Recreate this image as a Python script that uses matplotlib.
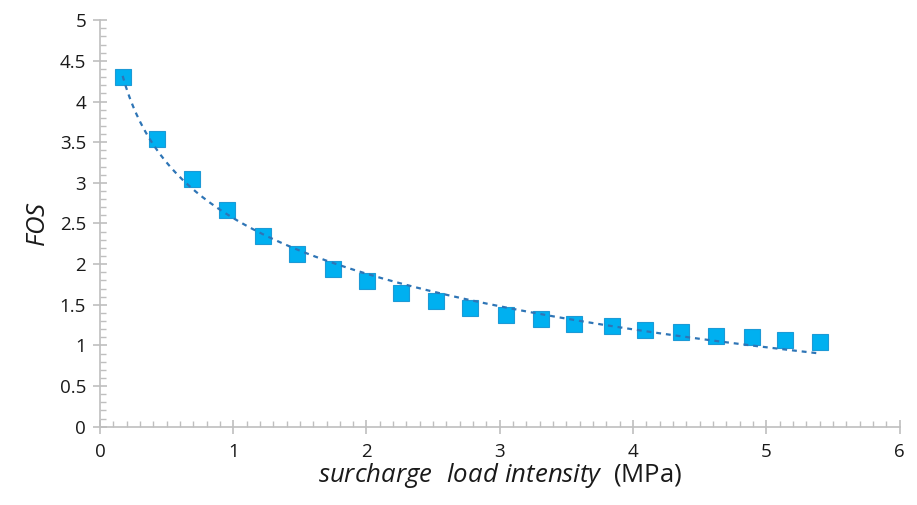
import numpy as np
import matplotlib
matplotlib.use("Agg")
import matplotlib.pyplot as plt
from matplotlib.ticker import MultipleLocator

# Data
load_mpa = [0.17, 0.425, 0.69, 0.95, 1.22, 1.475, 1.745, 2.005, 2.26, 2.525, 2.78,
            3.05, 3.31, 3.56, 3.84, 4.09, 4.36, 4.62, 4.89, 5.14, 5.40]
fos = [4.30, 3.54, 3.05, 2.66, 2.35, 2.12, 1.935, 1.795, 1.64, 1.545, 1.46,
       1.38, 1.33, 1.26, 1.24, 1.19, 1.165, 1.115, 1.10, 1.066, 1.045]
x_ticks = [0, 1, 2, 3, 4, 5, 6]
y_ticks = [0, 0.5, 1, 1.5, 2, 2.5, 3, 3.5, 4, 4.5, 5]
y_tick_labels = ["0", "0.5", "1", "1.5", "2", "2.5", "3", "3.5", "4", "4.5", "5"]

plt.rcParams['font.family'] = ['Open Sans', 'DejaVu Sans']
plt.rcParams['mathtext.fontset'] = 'custom'
plt.rcParams['mathtext.it'] = 'Open Sans:italic'
plt.rcParams['mathtext.rm'] = 'Open Sans'

fig = plt.figure(figsize=(9.17, 5.05), dpi=100)
ax = fig.add_axes([0.109, 0.155, 0.872, 0.805])

x = np.array(load_mpa)
y = np.array(fos)

# logarithmic trendline fitted to the data
coef = np.polyfit(np.log(x), y, 1)
xt = np.linspace(x.min(), x.max(), 200)
ax.plot(xt, coef[0] * np.log(xt) + coef[1], linestyle=(0, (2.2, 2.2)),
        color='#2E75B6', lw=1.6, zorder=3)

ax.plot(x, y, linestyle='none', marker='s', markersize=11,
        markerfacecolor='#00B0F0', markeredgecolor='#1C9AD6', markeredgewidth=0.8,
        zorder=2)

ax.set_xlim(0, 6)
ax.set_ylim(0, 5)
ax.set_xticks(x_ticks)
ax.set_yticks(y_ticks)
ax.set_yticklabels(y_tick_labels)
ax.xaxis.set_minor_locator(MultipleLocator(0.1))
ax.yaxis.set_minor_locator(MultipleLocator(0.1))

for s in ['top', 'right']:
    ax.spines[s].set_visible(False)
for s in ['left', 'bottom']:
    ax.spines[s].set_color('#BFBFBF')
    ax.spines[s].set_linewidth(1.2)

ax.tick_params(which='major', direction='inout', length=10, width=1.2,
               color='#BFBFBF', labelsize=13.5, labelcolor='#1A1A1A', pad=5)
ax.tick_params(which='minor', direction='in', length=4.5, width=1.0, color='#BFBFBF')
ax.tick_params(axis='x', which='major', pad=7)

ax.set_xlabel(r"$\mathit{surcharge\ \ load\ intensity}$  (MPa)", fontsize=18.5,
              color='#1A1A1A', labelpad=0)
ax.set_ylabel(r"$\mathit{FOS}$", fontsize=18.5, color='#1A1A1A', labelpad=6)

fig.savefig("out.png", dpi=100)
